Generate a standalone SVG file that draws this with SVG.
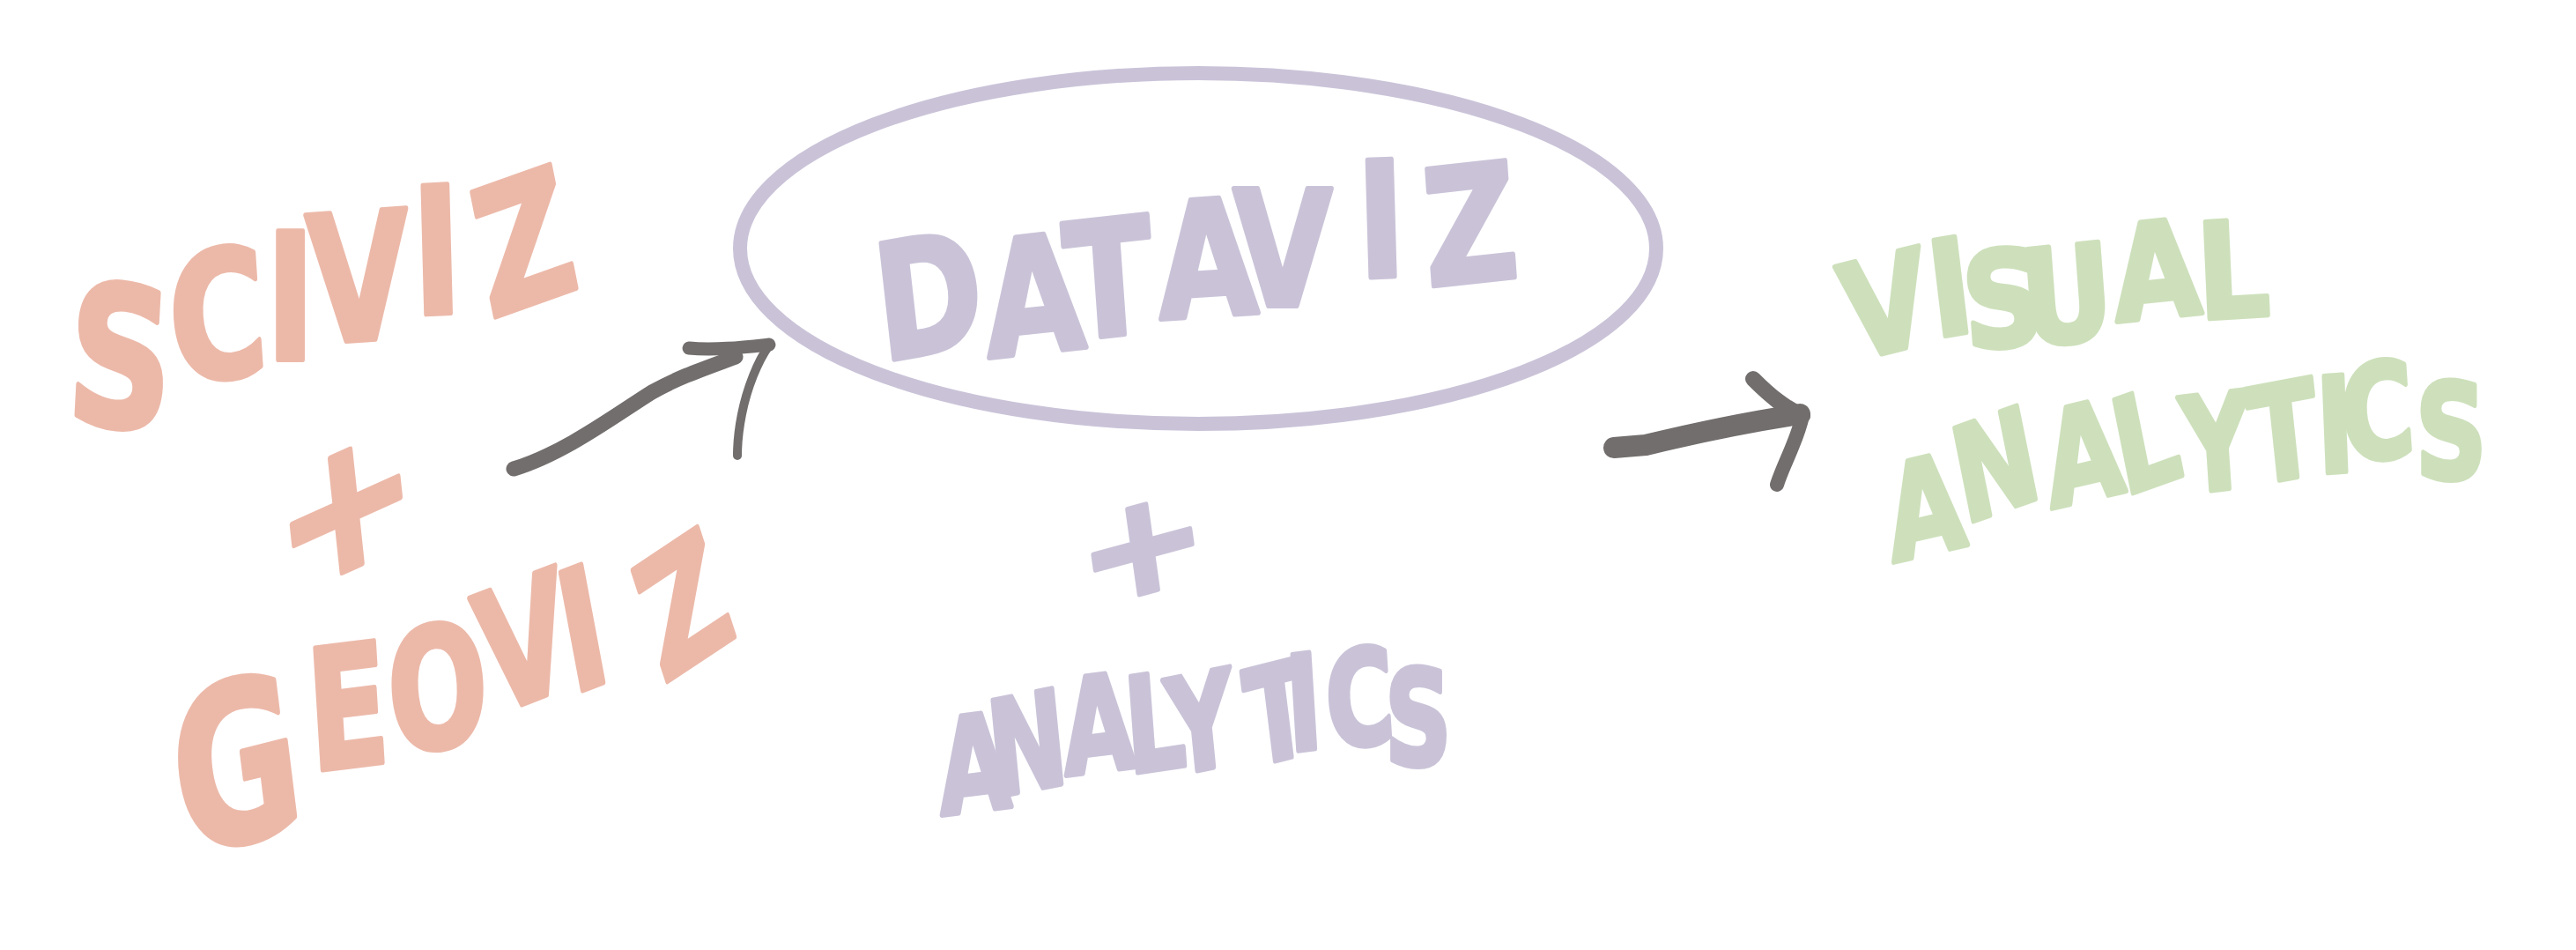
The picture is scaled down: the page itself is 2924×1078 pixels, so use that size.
<svg xmlns="http://www.w3.org/2000/svg" width="2924" height="1078" viewBox="0 0 2924 1078">
<style>
.hand{font-family:"DejaVu Sans","Liberation Sans",sans-serif;font-weight:bold;stroke-width:6;stroke-linejoin:round;stroke-linecap:round}
.sal{fill:#ecb9a9;stroke:#ecb9a9}
.lav{fill:#cac3d8;stroke:#cac3d8}
.grn{fill:#cde0bb;stroke:#cde0bb}
.conn{fill:none;stroke:#726e6d;stroke-linecap:round;stroke-linejoin:round}
</style>
<rect width="2924" height="1078" fill="#ffffff"/>
<g id="sciviz">
<text class="hand sal" font-size="200" transform="scale(0.75,1)" x="98" y="478" dx="0 6 -7 -8 3 40" dy="0 -43 -27 -18 -33 5" rotate="4 -5 0 -3 -2 -15"><tspan font-size="220">S</tspan>CIVIZ</text>
</g>
<g id="plus-left">
<text class="hand sal" font-size="200" text-anchor="middle" transform="matrix(0.958,-0.432,0.109,1.034,392,570)" x="0" y="72">+</text>
</g>
<g id="geoviz">
<text class="hand sal" font-size="190" transform="scale(0.7,1)" x="297" y="972" dx="0 3 0 4 -15 76" dy="0 -97 -20 -42 -25 -11" rotate="-10 -5 -5 -15 -15 -25"><tspan font-size="250">G</tspan>EOVIZ</text>
</g>
<g id="dataviz">
<ellipse cx="1360" cy="282" rx="520" ry="199" fill="none" stroke="#cac3d8" stroke-width="16"/>
<text class="hand lav" font-size="182" transform="scale(0.8,1)" x="1252" y="410" dx="0 -1 -12 19 -25 38 30" dy="0 -4 -20 -24 -15 -32 10" rotate="-8 -5 -5 -3 0 -2 -5">DATAVIZ</text>
</g>
<g id="plus-center">
<text class="hand lav" font-size="180" text-anchor="middle" transform="matrix(0.966,-0.259,0.121,0.861,1296,616)" x="0" y="65">+</text>
</g>
<g id="analytics">
<text class="hand lav" font-size="150" transform="scale(0.7,1)" x="1526" y="925" dx="0 -31 -9 -13 -2 21 -42 8 -22" dy="0 -20 -25 -2 2 -10 -17 -3 18" rotate="-5 -8 -5 -6 -8 -10 -5 -5 0">ANALYTICS</text>
</g>
<g id="visual-analytics">
<text class="hand grn" font-size="150" transform="scale(0.85,1)" x="2472" y="410" dx="0 -4 -14 -30 5 -5" dy="0 -27 14 -4 -28 -3" rotate="-12 -8 -5 -5 -5 -3">VISUAL</text>
<text class="hand grn" font-size="150" transform="scale(0.75,1)" x="2865" y="638" dx="0 -8 6 -6 19 -2 -6 -17 -5" dy="0 -43 -18 -14 -3 -10 -13 -12 18" rotate="-10 -15 -10 -15 -5 -8 -3 -5 0">ANALYTICS</text>
</g>
<g id="connectors">
<path class="conn" stroke-width="17" d="M583,532 C640,515 700,470 740,445 C770,428 800,418 835,405"/>
<path class="conn" stroke-width="15" d="M782,395 C810,398 845,394 873,391"/>
<path class="conn" stroke-width="10" d="M873,392 C860,410 848,440 842,470 C838,490 837,505 837,517"/>
<path class="conn" stroke-width="24" d="M1832,508 L1868,505 C1930,490 1990,478 2043,470"/>
<path class="conn" stroke-width="18" d="M1990,430 C2010,450 2025,462 2046,472"/>
<path class="conn" stroke-width="16" d="M2046,472 C2040,500 2025,525 2017,550"/>
</g>
</svg>
